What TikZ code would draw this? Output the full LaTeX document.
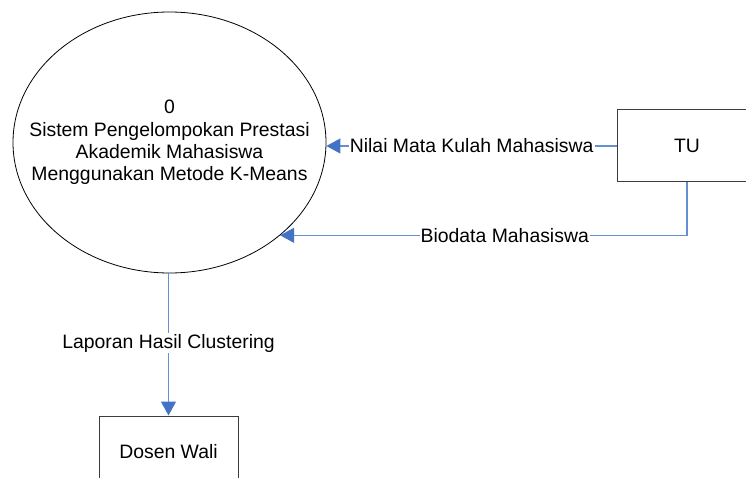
\documentclass[tikz,border=0pt]{standalone}
\usepackage{fontspec}
\setmainfont{Liberation Sans}
\usetikzlibrary{shapes.geometric,arrows.meta}
\definecolor{flowline}{RGB}{100,143,208}
\definecolor{flowtip}{RGB}{68,114,196}
\definecolor{boxline}{RGB}{60,60,60}
\tikzset{
  x=1pt,y=-1pt,
  every node/.style={font=\fontsize{19.4}{22.3}\selectfont},
  process/.style={ellipse,draw=black,line width=0.8pt,minimum width=313pt,minimum height=261pt,inner sep=0pt},
  proctext/.style={align=center,inner sep=0pt},
  entity/.style={rectangle,draw=boxline,line width=1pt,minimum width=139pt,minimum height=72pt,inner sep=0pt},
  flow/.style={draw=flowline,line width=1.2pt,-{Triangle[length=14pt,width=15pt,fill=flowtip,color=flowtip]}},
  flowlabel/.style={fill=white,inner sep=1pt}
}
\begin{document}
\begin{tikzpicture}
\useasboundingbox (0,0) rectangle (746,478);
\clip (0,0) rectangle (746,478);
\node[process] (p0) at (169.5,142.5) {};
\node[proctext] (p0text) at (p0.center) {0\\Sistem Pengelompokan Prestasi\\Akademik Mahasiswa\\Menggunakan Metode K-Means};
\node[entity] (tu) at (687,146) {TU};
\node[entity] (dw) at (168.5,452) {Dosen Wali};
\draw[flow] (tu.west) -- node[flowlabel,pos=0.5] {Nilai Mata Kulah Mahasiswa} (tu.west -| p0.east);
\draw[flow] (tu.south) |- node[flowlabel,pos=0.724] {Biodata Mahasiswa} (p0.-40);
\draw[flow] (p0.south -| dw.north) -- node[flowlabel,pos=0.49] {Laporan Hasil Clustering} (dw.north);
\end{tikzpicture}
\end{document}
